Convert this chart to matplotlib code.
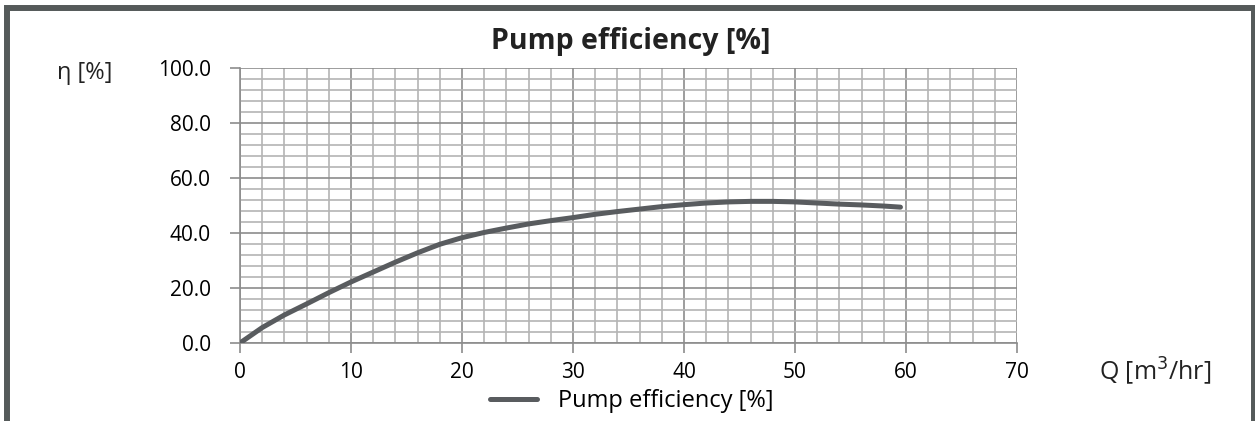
import matplotlib
matplotlib.use('Agg')
import matplotlib.pyplot as plt
from matplotlib.patches import Rectangle
from matplotlib.ticker import MultipleLocator

plt.rcParams['font.family'] = ['Open Sans', 'DejaVu Sans']

# flow Q [m3/hr] and efficiency [%]
flow = [0, 2, 4, 6, 8, 10, 12, 14, 16, 18, 20, 22, 24, 26, 28, 30, 32, 34, 36, 38,
        40, 42, 44, 46, 48, 50, 52, 54, 56, 58, 59.5]
eta = [0, 5.6, 10.2, 14.2, 18.3, 22.2, 25.8, 29.4, 32.8, 35.9, 38.3, 40.2, 41.8, 43.3, 44.5, 45.6,
       46.8, 47.8, 48.7, 49.6, 50.3, 50.9, 51.3, 51.5, 51.5, 51.3, 50.9, 50.5, 50.2, 49.8, 49.4]

W, H = 1255, 421
fig = plt.figure(figsize=(W / 100, H / 100), dpi=100)
ax = fig.add_axes([240 / W, 1 - 343 / H, 777 / W, 275 / H])

line_col = '#595c5f'
ax.plot(flow, eta, color=line_col, lw=3.6, solid_capstyle='round', solid_joinstyle='round',
        label='Pump efficiency [%]', zorder=5)

ax.set_xlim(0, 70)
ax.set_ylim(0, 100)
ax.xaxis.set_major_locator(MultipleLocator(10))
ax.xaxis.set_minor_locator(MultipleLocator(2))
ax.yaxis.set_major_locator(MultipleLocator(20))
ax.yaxis.set_minor_locator(MultipleLocator(4))
ax.set_yticklabels([f'{v:.1f}' for v in ax.get_yticks()])
ax.grid(which='major', color='#8c8c8c', lw=1.2)
ax.grid(which='minor', color='#b4b4b4', lw=1.2)
ax.set_axisbelow(True)

for s in ['top', 'right']:
    ax.spines[s].set_visible(False)
for s in ['left', 'bottom']:
    ax.spines[s].set_color('#8c8c8c')
    ax.spines[s].set_linewidth(1.2)
ax.tick_params(which='major', length=7, width=1.2, color='#8c8c8c', labelsize=15)
ax.tick_params(which='minor', length=0)
ax.tick_params(axis='x', pad=7)
ax.tick_params(axis='y', pad=14)

fig.text(631 / W, 1 - 42 / H, 'Pump efficiency [%]', ha='center', va='center',
         fontsize=20.5, fontweight='bold', color='#222222')
fig.text(85 / W, 1 - 73 / H, 'η [%]', ha='center', va='center', fontsize=17, color='#222222')
fig.text(1155 / W, 1 - 371 / H, 'Q [m$^3$/hr]', ha='center', va='center', fontsize=18, color='#222222')

fig.legend(loc='center', bbox_to_anchor=(632 / W, 1 - 401 / H), frameon=False,
           fontsize=17, handlelength=2.0, handletextpad=0.9)

# outer frame (bottom edge runs off the image)
fig.add_artist(Rectangle((7 / W, -0.1), (1254 - 7) / W, 1 - 8.5 / H + 0.1,
                         transform=fig.transFigure, fill=False,
                         edgecolor='#555a5a', lw=4.3))

fig.savefig('out.png', dpi=100)
